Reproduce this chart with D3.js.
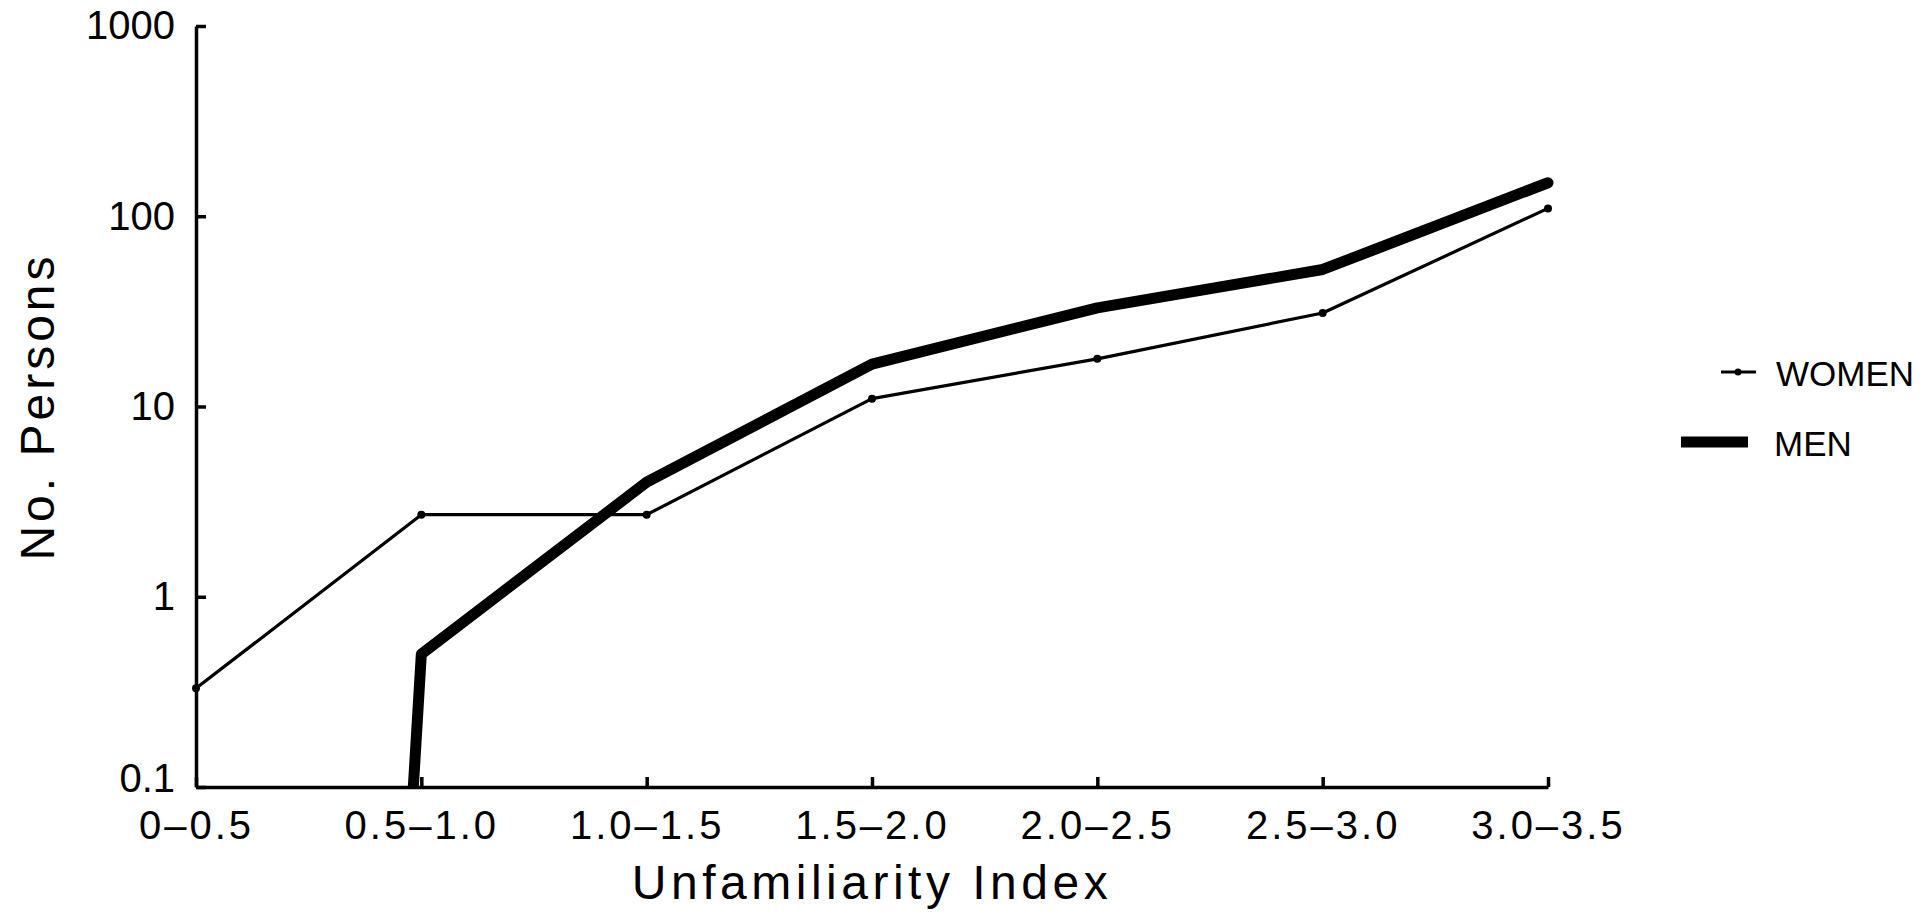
<!DOCTYPE html>
<html>
<head>
<meta charset="utf-8">
<script src="https://cdn.jsdelivr.net/npm/d3@7"></script>
<style>
  body { margin: 0; background: #fff; }
  svg text { font-family: "Liberation Sans", Arial, sans-serif; fill: #000; }
</style>
</head>
<body>
<svg id="chart"></svg>
<script>
// categories of the unfamiliarity index
const categories = ["0–0.5", "0.5–1.0", "1.0–1.5", "1.5–2.0", "2.0–2.5", "2.5–3.0", "3.0–3.5"];
// number of persons per category (log scale)
const women = [0.33, 2.7, 2.7, 11, 17.8, 31, 110];
const men = [0, 0.5, 4.0, 16.7, 33, 52.5, 150];
const yTicks = [0.1, 1, 10, 100, 1000];

const width = 1929;
const height = 920;
// the plotting program put zero counts at a tiny value, so the line drops through the axis
const zeroFloor = 1e-20;

const svg = d3.select("#chart")
    .attr("width", width)
    .attr("height", height);

const x = d3.scalePoint()
    .domain(categories)
    .range([196, 1548]);

const y = d3.scaleLog()
    .domain([0.1, 1000])
    .range([787, 26]);

// clip so the men's line stops at the x axis
svg.append("defs").append("clipPath")
    .attr("id", "plotClip")
    .append("rect")
    .attr("x", x.range()[0])
    .attr("y", 0)
    .attr("width", x.range()[1] - x.range()[0] + 20)
    .attr("height", y.range()[0]);

// y axis
const yAxis = svg.append("g")
    .attr("transform", `translate(${x.range()[0]},0)`)
    .call(d3.axisLeft(y)
        .tickValues(yTicks)
        .tickFormat(d => d < 1 ? d.toString() : d3.format("d")(d))
        .tickSizeInner(-10)
        .tickSizeOuter(0)
        .tickPadding(21));
yAxis.selectAll("path, line").attr("stroke", "#000").attr("stroke-width", 3.5);
yAxis.selectAll("text")
    .attr("font-size", 40)
    .attr("dy", d => d === 0.1 ? "0.1em" : "0.32em")
    .style("font-family", "Liberation Sans, Arial, sans-serif");

// x axis
const xAxis = svg.append("g")
    .attr("transform", `translate(0,${y.range()[0]})`)
    .call(d3.axisBottom(x)
        .tickSizeInner(-10)
        .tickSizeOuter(0)
        .tickPadding(24));
xAxis.selectAll("path, line").attr("stroke", "#000").attr("stroke-width", 3.5);
xAxis.selectAll("text")
    .attr("font-size", 40)
    .attr("letter-spacing", 3)
    .style("font-family", "Liberation Sans, Arial, sans-serif");

// axis titles
svg.append("text")
    .attr("x", (x.range()[0] + x.range()[1]) / 2)
    .attr("y", 899)
    .attr("text-anchor", "middle")
    .attr("font-size", 48)
    .attr("letter-spacing", 4.5)
    .text("Unfamiliarity Index");

svg.append("text")
    .attr("transform", `translate(54,${(y.range()[0] + y.range()[1]) / 2}) rotate(-90)`)
    .attr("text-anchor", "middle")
    .attr("font-size", 48)
    .attr("letter-spacing", 4)
    .text("No. Persons");

const line = d3.line()
    .x((d, i) => x(categories[i]))
    .y(d => y(Math.max(d, zeroFloor)));

const plot = svg.append("g").attr("clip-path", "url(#plotClip)");

plot.append("path")
    .datum(men)
    .attr("fill", "none")
    .attr("stroke", "#000")
    .attr("stroke-width", 11)
    .attr("stroke-linejoin", "round")
    .attr("stroke-linecap", "round")
    .attr("d", line);

plot.append("path")
    .datum(women)
    .attr("fill", "none")
    .attr("stroke", "#000")
    .attr("stroke-width", 3.2)
    .attr("stroke-linejoin", "round")
    .attr("d", line);

svg.selectAll(".women-dot")
    .data(women)
    .enter()
    .append("circle")
    .attr("class", "women-dot")
    .attr("cx", (d, i) => x(categories[i]))
    .attr("cy", d => y(d))
    .attr("r", 4)
    .attr("fill", "#000");

// legend
const legend = svg.append("g");

legend.append("line")
    .attr("x1", 1721).attr("x2", 1756)
    .attr("y1", 372).attr("y2", 372)
    .attr("stroke", "#000")
    .attr("stroke-width", 3.2);
legend.append("circle")
    .attr("cx", 1738).attr("cy", 372).attr("r", 3.5)
    .attr("fill", "#000");
legend.append("text")
    .attr("x", 1776)
    .attr("y", 386)
    .attr("font-size", 35)
    .text("WOMEN");

legend.append("line")
    .attr("x1", 1681).attr("x2", 1748)
    .attr("y1", 442).attr("y2", 442)
    .attr("stroke", "#000")
    .attr("stroke-width", 11);
legend.append("text")
    .attr("x", 1774)
    .attr("y", 456)
    .attr("font-size", 35)
    .text("MEN");
</script>
</body>
</html>
